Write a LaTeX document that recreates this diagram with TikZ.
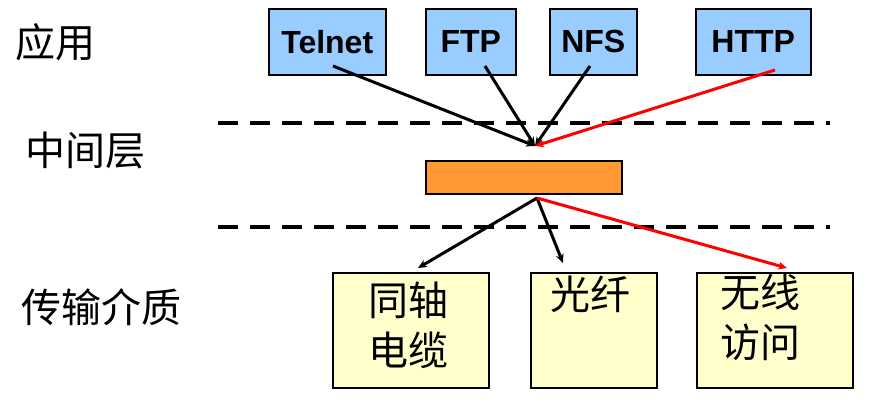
\documentclass[tikz,border=0pt]{standalone}
\usepackage{fontspec}
\usetikzlibrary{arrows.meta}
\setmainfont{Liberation Sans}
\newfontfamily\cjk{Noto Sans CJK SC}
\definecolor{lb}{RGB}{153,204,255}
\definecolor{ly}{RGB}{255,255,204}
\definecolor{orb}{RGB}{255,153,51}
\begin{document}
\begin{tikzpicture}[x=1pt,y=-1pt,
  proto/.style={draw,fill=lb,line width=1.5pt,minimum height=66pt,font=\fontsize{32}{36}\selectfont\bfseries,anchor=north west,inner sep=0pt},
  med/.style={draw,fill=ly,line width=1.5pt,minimum height=115pt,minimum width=156pt,anchor=north west,inner sep=0pt},
  lbl/.style={font=\cjk\fontsize{40}{46}\selectfont,anchor=west},
  mtxt/.style={font=\cjk\fontsize{40}{50}\selectfont,align=left,anchor=north},
  arr/.style={-{Stealth[length=9pt,width=8pt]},line width=3pt},
  dl/.style={line width=3.5pt,dash pattern=on 20pt off 12pt}]
\useasboundingbox (0,0) rectangle (892,410);
\fill[white] (0,0) rectangle (892,410);
\node[proto,minimum width=117pt] (telnet) at (268,8) {\raisebox{-6pt}{Telnet}};
\node[proto,minimum width=90pt] (ftp) at (425,8) {FTP};
\node[proto,minimum width=87pt] (nfs) at (549,8) {NFS};
\node[proto,minimum width=115pt] (http) at (695,8) {HTTP};
\node[lbl] (l1) at (12,42) {应用};
\node[lbl] (l2) at (22,150) {中间层};
\node[lbl] (l3) at (18,307) {传输介质};
\draw[dl] (218,123) -- (830,123);
\draw[dl] (218,227) -- (830,227);
\node[draw,fill=orb,line width=1.5pt,minimum width=196pt,minimum height=33pt,anchor=north west,inner sep=0pt] (bar) at (425,160) {};
\coordinate (top) at (535,146);
\coordinate (bot) at (537,198);
\draw[arr] (333,66) -- (top);
\draw[arr] (485,66) -- (top);
\draw[arr] (590,66) -- (top);
\draw[arr,red] (775,70) -- (top);
\node[med] (coax) at (332,272) {};
\node[med,minimum width=126pt] (fiber) at (530,272) {};
\node[med] (wl) at (696,272) {};
\node[mtxt] (t1) at (408,278) {同轴\\电缆};
\node[mtxt] (t2) at (590,272) {光纤};
\node[mtxt] (t3) at (760,270) {无线\\访问};
\draw[arr] (bot) -- (418,268);
\draw[arr] (bot) -- (563,263);
\draw[arr,red] (bot) -- (787,268);
\end{tikzpicture}
\end{document}
